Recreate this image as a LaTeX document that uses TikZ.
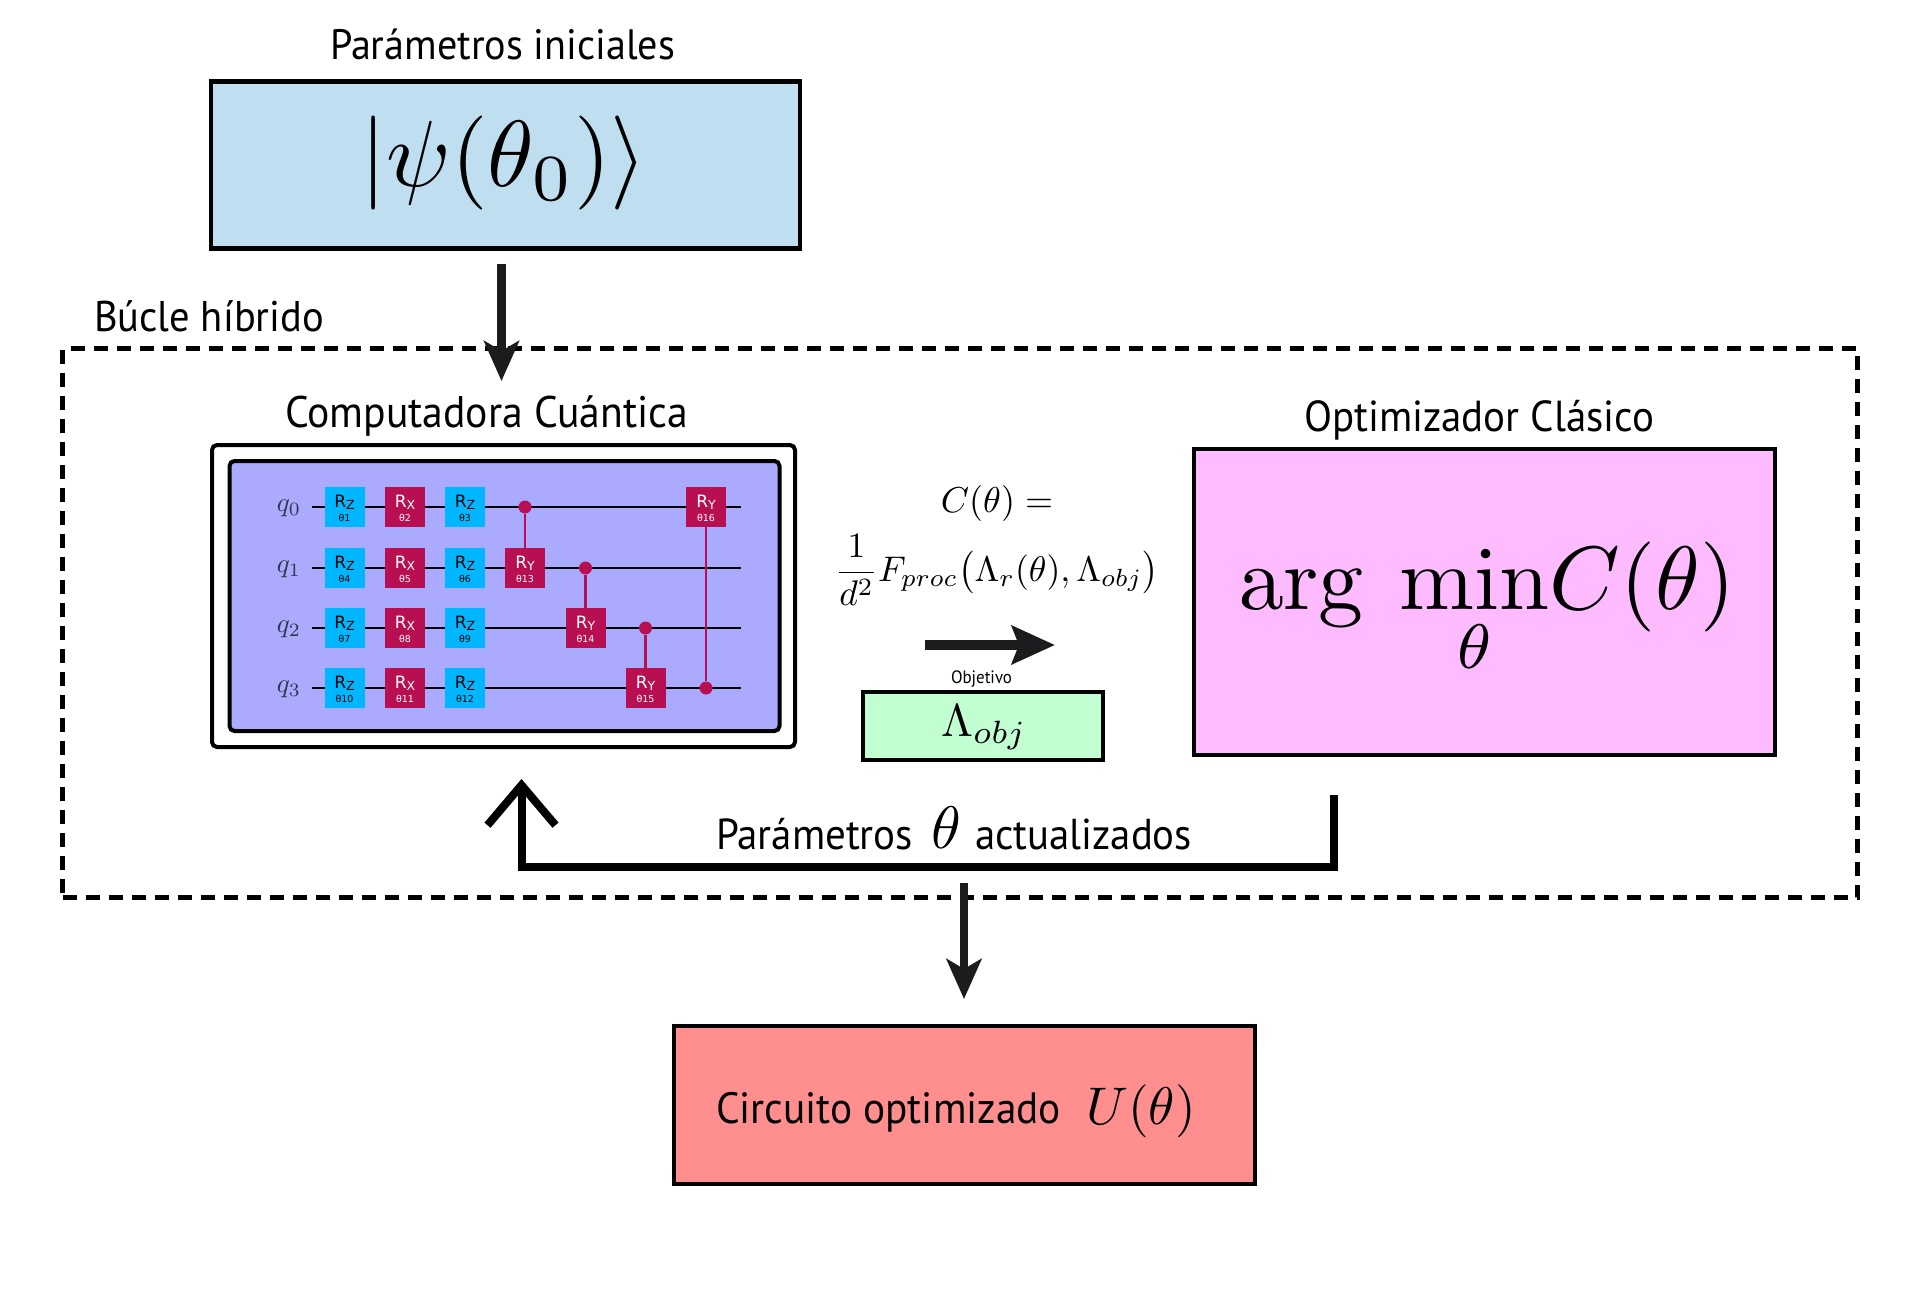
\documentclass[tikz,border=0pt]{standalone}
\usepackage[no-math]{fontspec}
\usepackage{amsmath}
\setmainfont{PT Sans}
\newfontfamily\gatefont{DejaVu Sans}
\usetikzlibrary{arrows.meta}
\definecolor{cblue}{HTML}{BFDEEF}
\definecolor{cpink}{HTML}{FFBBFF}
\definecolor{cgreen}{HTML}{C1FFD3}
\definecolor{cred}{HTML}{FF8F8F}
\definecolor{cpurple}{HTML}{AAAAFF}
\definecolor{ccyan}{HTML}{00B6FF}
\definecolor{ccrimson}{HTML}{B80F53}
\definecolor{cdark}{HTML}{1C1C1E}
\newcommand\mth[2]{\scalebox{#1}{$\displaystyle #2$}}
\newcommand\fit[2]{\scalebox{1}[1.06]{\resizebox{#1pt}{!}{\fontsize{38}{40}\selectfont #2}}}
\tikzset{
  box/.style={draw=black,line width=4.5pt,inset sep,minimum width=#1},
  inset sep/.style={inner sep=0pt,outer sep=0pt},
  txt/.style={inner sep=0pt,outer sep=0pt,anchor=base west},
  mth/.style={inner sep=0pt,outer sep=0pt,anchor=center},
  bigarrow/.style={line width=8.5pt,color=cdark,-{Stealth[length=40pt,width=35pt,inset=10pt]}},
  gatebox/.style={inner sep=0pt,outer sep=0pt,minimum width=40pt,minimum height=40pt,fill=#1},
  wire/.style={line width=2pt,color=black},
  ctrl/.style={line width=2.2pt,color=ccrimson},
  dot/.style={circle,fill=ccrimson,inner sep=0pt,minimum size=13pt},
}
\newcommand\gate[7]{% name, x, y, fill, textcolor, subscript, theta
  \node[gatebox=#4] (#1) at (#2,#3) {};
  \node[inner sep=0pt,anchor=base,text=#5,font=\gatefont\fontsize{17}{17}\selectfont] (#1r) at (#2,#3+1) {R\raisebox{-2pt}{\fontsize{12.5}{12.5}\selectfont #6}};
  \node[inner sep=0pt,anchor=base,text=#5,font=\gatefont\fontsize{9.5}{10}\selectfont] (#1t) at (#2,#3+15) {θ#7};
}
\begin{document}
\begin{tikzpicture}[x=1pt,y=-1pt]
\useasboundingbox (0,0) rectangle (1920,1300);
% titles
\node[txt] (tini) at (330,60) {\fit{345}{Parámetros iniciales}};
\node[txt] (tloop) at (94,331) {\fit{230}{Búcle híbrido}};
\node[txt] (tqc) at (285,427) {\fit{403}{Computadora Cuántica}};
\node[txt] (topt) at (1304,431) {\fit{350}{Optimizador Clásico}};
% blue box
\node[box=589pt,fill=cblue,minimum height=167pt] (ini) at (505.5,165) {};
\node[mth] (psi) at (504,163) {\mth{9.4}{|\psi(\theta_0)\rangle}};
% hybrid loop
\node[draw=black,line width=4.5pt,dash pattern=on 14pt off 9pt,inner sep=0pt,outer sep=0pt,minimum width=1795pt,minimum height=549pt] (loop) at (960,623) {};
% arrow in
\coordinate (a1s) at (501.5,264);
\coordinate (a1e) at (501.5,381);
\draw[bigarrow] (a1s) -- (a1e);
% quantum computer
\node[draw=black,line width=4pt,rounded corners=5pt,minimum width=583pt,minimum height=302pt,inner sep=0pt,outer sep=0pt,fill=white] (qc) at (503.5,596) {};
\node[draw=black,line width=4pt,rounded corners=5pt,minimum width=550pt,minimum height=270pt,inner sep=0pt,outer sep=0pt,fill=cpurple] (qci) at (504.5,596) {};
% wires
\foreach \n/\y in {0/507,1/568,2/628,3/688}{
  \coordinate (w\n s) at (312,\y);
  \coordinate (w\n e) at (741,\y);
  \draw[wire] (w\n s) -- (w\n e);
  \node[inner sep=0pt,anchor=base,text=black!70!cpurple] (q\n) at (289,\y+4) {\scalebox{2.7}{$q_{\n}$}};
}
% first three columns
\gate{g1}{344.5}{506.5}{ccyan}{black}{Z}{1}
\gate{g2}{405}{506.5}{ccrimson}{white}{X}{2}
\gate{g3}{465}{506.5}{ccyan}{black}{Z}{3}
\gate{g4}{344.5}{567.5}{ccyan}{black}{Z}{4}
\gate{g5}{405}{567.5}{ccrimson}{white}{X}{5}
\gate{g6}{465}{567.5}{ccyan}{black}{Z}{6}
\gate{g7}{344.5}{627.5}{ccyan}{black}{Z}{7}
\gate{g8}{405}{627.5}{ccrimson}{white}{X}{8}
\gate{g9}{465}{627.5}{ccyan}{black}{Z}{9}
\gate{g10}{344.5}{687.5}{ccyan}{black}{Z}{10}
\gate{g11}{405}{687.5}{ccrimson}{white}{X}{11}
\gate{g12}{465}{687.5}{ccyan}{black}{Z}{12}
% controlled gates
\gate{g13}{525}{567.5}{ccrimson}{white}{Y}{13}
\gate{g14}{585.5}{627.5}{ccrimson}{white}{Y}{14}
\gate{g15}{645.5}{687.5}{ccrimson}{white}{Y}{15}
\gate{g16}{706}{506.5}{ccrimson}{white}{Y}{16}
\node[dot] (c13) at (525,507) {};
\node[dot] (c14) at (585.5,568) {};
\node[dot] (c15) at (645.5,628) {};
\node[dot] (c16) at (706,688) {};
\draw[ctrl] (c13) -- (g13);
\draw[ctrl] (c14) -- (g14);
\draw[ctrl] (c15) -- (g15);
\draw[ctrl] (c16) -- (g16);
% cost
\node[mth] (cost) at (997,503) {\mth{3.6}{C(\theta)=}};
\node[mth] (fid) at (997,570) {\mth{3.56}{\frac{1}{d^2}F_{proc}\bigl(\Lambda_r(\theta),\Lambda_{obj}\bigr)}};
\coordinate (a2s) at (925,645);
\coordinate (a2e) at (1055,645);
\draw[line width=10pt,color=cdark,-{Stealth[length=43pt,width=38pt,inset=7pt]}] (a2s) -- (a2e);
\node[txt] (tobj) at (951,683) {\fit{61}{Objetivo}};
\node[box=240pt,line width=3.6pt,fill=cgreen,minimum height=68pt] (obj) at (983,726) {};
\node[mth] (lam) at (984,727) {\mth{4.6}{\Lambda_{obj}}};
% optimizer
\node[box=581pt,fill=cpink,minimum height=306pt] (opt) at (1484.5,602) {};
\node[mth] (argmin) at (1487,610) {\mth{9}{\mathrm{arg}\mkern3.9mu\mathop{\mathrm{min}}\limits_\theta\mkern-3mu C(\theta)}};
% feedback
\coordinate (fbs) at (1334,795);
\coordinate (fbr) at (1334,867);
\coordinate (fbl) at (521.5,867);
\coordinate (fbe) at (521.5,779);
\draw[line width=8pt,-{Straight Barb[length=40pt,width=68pt,line width=8pt]}] (fbs) -- (fbr) -- (fbl) -- (fbe);
\node[txt] (tp1) at (716,849) {\fit{197}{Parámetros}};
\node[mth] (th) at (946,828) {\mth{6}{\theta}};
\node[txt] (tp2) at (975,849) {\fit{217}{actualizados}};
% arrow out
\coordinate (a3s) at (964,883);
\coordinate (a3e) at (964,999);
\draw[bigarrow] (a3s) -- (a3e);
% result
\node[box=581pt,fill=cred,minimum height=158pt] (res) at (964.5,1105) {};
\node[txt] (tres) at (716,1123) {\fit{345}{Circuito optimizado}};
\node[mth] (uth) at (1141,1111) {\mth{5.3}{U(\theta)}};
\end{tikzpicture}
\end{document}
